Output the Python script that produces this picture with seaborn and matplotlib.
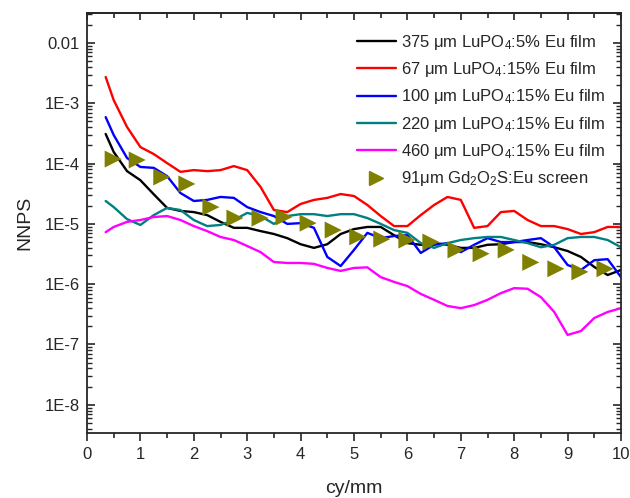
import math
import matplotlib
matplotlib.use("Agg")
import matplotlib.pyplot as plt
from matplotlib.lines import Line2D
from matplotlib.ticker import FixedLocator, FuncFormatter, LogLocator, MultipleLocator, NullFormatter
import seaborn as sns
import pandas as pd

# spatial frequency (cy/mm) where the film curves were read
freq = [0.35, 0.5, 0.75, 1.0, 1.25, 1.5, 1.75, 2.0, 2.25, 2.5, 2.75, 3.0, 3.25, 3.5,
        3.75, 4.0, 4.25, 4.5, 4.75, 5.0, 5.25, 5.5, 5.75, 6.0, 6.25, 6.5, 6.75, 7.0,
        7.25, 7.5, 7.75, 8.0, 8.25, 8.5, 8.75, 9.0, 9.25, 9.5, 9.75, 10.0]

nnps_375_5 = [3.1e-4, 1.56e-4, 7.5e-5, 5.3e-5, 3.1e-5, 1.84e-5, 1.64e-5, 1.57e-5, 1.4e-5, 1.08e-5,
              8.6e-6, 8.6e-6, 7.6e-6, 6.8e-6, 5.8e-6, 4.6e-6, 4.0e-6, 4.6e-6, 6.8e-6, 8.2e-6,
              8.9e-6, 8.9e-6, 6.5e-6, 4.8e-6, 4.5e-6, 4.8e-6, 4.5e-6, 4.0e-6, 4.0e-6, 4.5e-6,
              4.6e-6, 5.0e-6, 5.0e-6, 4.6e-6, 4.1e-6, 3.55e-6, 2.83e-6, 1.93e-6, 1.42e-6, 1.72e-6]
nnps_67_15 = [2.73e-3, 1.13e-3, 4.05e-4, 1.88e-4, 1.44e-4, 1.02e-4, 7.3e-5, 7.8e-5, 7.5e-5, 7.8e-5,
              9.1e-5, 7.8e-5, 4.1e-5, 1.7e-5, 1.57e-5, 2.14e-5, 2.5e-5, 2.7e-5, 3.13e-5, 2.9e-5,
              2.06e-5, 1.35e-5, 9.2e-6, 9.2e-6, 1.4e-5, 2.06e-5, 2.8e-5, 2.5e-5, 8.6e-6, 9.2e-6,
              1.57e-5, 1.64e-5, 1.16e-5, 9.2e-6, 9.2e-6, 8.2e-6, 6.8e-6, 7.3e-6, 8.9e-6, 8.9e-6]
nnps_100_15 = [5.9e-4, 2.98e-4, 1.24e-4, 8.8e-5, 8.5e-5, 6.2e-5, 3.25e-5, 2.4e-5, 2.5e-5, 2.8e-5,
               2.7e-5, 1.9e-5, 1.57e-5, 1.35e-5, 1.0e-5, 1.03e-5, 8.6e-6, 2.83e-6, 2.0e-6, 3.7e-6,
               7.1e-6, 5.8e-6, 6.3e-6, 6.5e-6, 3.3e-6, 4.5e-6, 4.8e-6, 3.4e-6, 4.5e-6, 5.8e-6,
               5.0e-6, 5.0e-6, 5.4e-6, 5.8e-6, 4.1e-6, 2.08e-6, 1.72e-6, 2.5e-6, 2.6e-6, 1.31e-6]
nnps_220_15 = [2.4e-5, 1.9e-5, 1.2e-5, 9.6e-6, 1.4e-5, 1.84e-5, 1.7e-5, 1.16e-5, 9.2e-6, 9.6e-6,
               1.16e-5, 1.52e-5, 1.35e-5, 1.0e-5, 1.35e-5, 1.45e-5, 1.45e-5, 1.35e-5, 1.45e-5, 1.45e-5,
               1.25e-5, 1.0e-5, 7.9e-6, 7.1e-6, 4.8e-6, 4.0e-6, 4.8e-6, 5.4e-6, 5.8e-6, 6.07e-6,
               6.07e-6, 5.4e-6, 4.8e-6, 4.1e-6, 4.5e-6, 5.8e-6, 6.07e-6, 6.07e-6, 5.4e-6, 4.1e-6]
nnps_460_15 = [7.3e-6, 8.9e-6, 1.08e-5, 1.16e-5, 1.3e-5, 1.35e-5, 1.16e-5, 9.2e-6, 7.6e-6, 6.07e-6,
               5.4e-6, 4.3e-6, 3.4e-6, 2.33e-6, 2.25e-6, 2.25e-6, 2.17e-6, 1.86e-6, 1.66e-6, 1.86e-6,
               1.9e-6, 1.31e-6, 1.09e-6, 9.3e-7, 6.9e-7, 5.5e-7, 4.35e-7, 4.0e-7, 4.5e-7, 5.5e-7,
               7.1e-7, 8.6e-7, 8.4e-7, 6.1e-7, 3.46e-7, 1.44e-7, 1.67e-7, 2.75e-7, 3.46e-7, 4.0e-7]

# Gd2O2S:Eu screen (triangle markers)
gd_freq = [0.49, 0.94, 1.40, 1.87, 2.32, 2.77, 3.24, 3.69, 4.14, 4.61, 5.07, 5.52, 5.99,
           6.44, 6.91, 7.38, 7.85, 8.31, 8.78, 9.23, 9.70]
gd_nnps = [1.19e-4, 1.15e-4, 6.0e-5, 4.6e-5, 1.9e-5, 1.25e-5, 1.25e-5, 1.3e-5, 1.03e-5, 7.9e-6,
           6.1e-6, 5.6e-6, 5.4e-6, 5.0e-6, 3.7e-6, 3.2e-6, 3.7e-6, 2.3e-6, 1.8e-6, 1.6e-6, 1.8e-6]

labels = ["375 μm LuPO$_4$:5% Eu film",
          "67 μm LuPO$_4$:15% Eu film",
          "100 μm LuPO$_4$:15% Eu film",
          "220 μm LuPO$_4$:15% Eu film",
          "460 μm LuPO$_4$:15% Eu film"]
gd_label = "91μm Gd$_2$O$_2$S:Eu screen"
colors = ["#000000", "#ff0000", "#0000ff", "#008080", "#ff00ff"]
gd_color = "#808000"

series = [nnps_375_5, nnps_67_15, nnps_100_15, nnps_220_15, nnps_460_15]
df = pd.concat([pd.DataFrame({"freq": freq, "nnps": s, "sample": lab})
                for lab, s in zip(labels, series)], ignore_index=True)
gd = pd.DataFrame({"freq": gd_freq, "nnps": gd_nnps})

sns.set_style("ticks")
plt.rcParams["font.family"] = ["Liberation Sans", "DejaVu Sans"]
plt.rcParams["mathtext.fontset"] = "custom"
plt.rcParams["mathtext.rm"] = "Liberation Sans"
plt.rcParams["mathtext.it"] = "Liberation Sans"

fig = plt.figure(figsize=(6.3, 4.98), dpi=100)
ax = fig.add_axes([87 / 630, 1 - 433 / 498, 534 / 630, 420 / 498])

sns.lineplot(data=df, x="freq", y="nnps", hue="sample", palette=dict(zip(labels, colors)),
             estimator=None, sort=False, linewidth=1.7, legend=False, ax=ax)
sns.scatterplot(data=gd, x="freq", y="nnps", marker=">", s=150, color=gd_color,
                edgecolor="none", ax=ax, zorder=3)

ax.set_yscale("log")
ax.set_xlim(0, 10)
ax.set_ylim(3.4e-9, 3.15e-2)

ax.xaxis.set_major_locator(MultipleLocator(1))
ax.xaxis.set_minor_locator(MultipleLocator(0.5))
ax.yaxis.set_major_locator(FixedLocator([1e-2, 1e-3, 1e-4, 1e-5, 1e-6, 1e-7, 1e-8]))
ax.yaxis.set_minor_locator(LogLocator(base=10, subs=range(2, 10), numticks=20))
ax.yaxis.set_minor_formatter(NullFormatter())
ylabels = {-2: "0.01", -3: "1E-3", -4: "1E-4", -5: "1E-5", -6: "1E-6", -7: "1E-7", -8: "1E-8"}
ax.yaxis.set_major_formatter(FuncFormatter(lambda v, p: ylabels.get(int(round(math.log10(v))), "")))

ax.tick_params(axis="x", which="major", direction="out", length=6, width=1.2, labelsize=12, pad=4)
ax.tick_params(axis="x", which="minor", direction="out", length=3.5, width=1.2)
ax.tick_params(axis="y", which="major", direction="in", length=6, width=1.2, labelsize=12,
               right=True, pad=5)
ax.tick_params(axis="y", which="minor", direction="in", length=3.5, width=1.0, right=True)

top = ax.secondary_xaxis("top")
top.xaxis.set_major_locator(MultipleLocator(1))
top.xaxis.set_minor_locator(MultipleLocator(0.5))
top.tick_params(which="major", direction="in", length=5, width=1.2, labeltop=False)
top.tick_params(which="minor", direction="in", length=3.5, width=1.2)

for sp in ax.spines.values():
    sp.set_linewidth(1.3)
top.spines["top"].set_linewidth(1.3)

ax.set_xlabel("cy/mm", fontsize=14, labelpad=13)
ax.set_ylabel("NNPS", fontsize=14, labelpad=8)

handles = [Line2D([], [], color=c, lw=1.7) for c in colors]
handles.append(Line2D([], [], color=gd_color, marker=">", ls="none", markersize=10))
ax.legend(handles, labels + [gd_label], loc="upper left", bbox_to_anchor=(0.506, 0.953),
          frameon=False, fontsize=12, handlelength=2.3, handletextpad=0.35,
          labelspacing=0.5, borderpad=0, borderaxespad=0)

fig.savefig("out.png", dpi=100)
